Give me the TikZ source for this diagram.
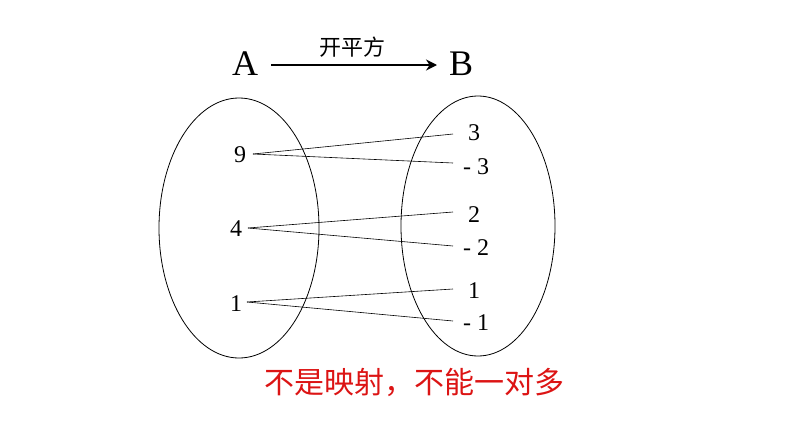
\documentclass[tikz,border=0pt]{standalone}
\usepackage{fontspec}
\setmainfont{Liberation Serif}
\newfontfamily\cjk{Noto Sans CJK SC}
\usetikzlibrary{arrows.meta}
\begin{document}
\begin{tikzpicture}[x=1pt,y=-1pt,
  num/.style={inner sep=0pt,font=\fontsize{24}{24}\selectfont},
  big/.style={inner sep=0pt,font=\fontsize{36}{36}\selectfont},
  ln/.style={draw,line width=0.6pt}]
\useasboundingbox (0,0) rectangle (794,447);
\draw[line width=0.8pt] (239,228) ellipse [x radius=80, y radius=130];
\draw[line width=0.8pt] (478,226) ellipse [x radius=77, y radius=130];
\node[big] (A) at (245,64) {A};
\node[big] (B) at (461,64) {B};
\coordinate (s) at (271,65);
\coordinate (e) at (437,65);
\draw[line width=1.8pt,-{Stealth[length=11pt,width=11pt]}] (s) -- (e);
\node[inner sep=0pt,font=\cjk\fontsize{22}{22}\selectfont] (f) at (352,47) {开平方};
\node[num] (n9) at (240,155) {9};
\node[num] (n4) at (236,229) {4};
\node[num] (n1) at (236,304) {1};
\node[num] (r3) at (474,133) {3};
\node[num] (m3) at (476,167) {- 3};
\node[num] (r2) at (474,215) {2};
\node[num] (m2) at (476,248) {- 2};
\node[num] (r1) at (474,291) {1};
\node[num] (m1) at (476,323) {- 1};
\coordinate (a9) at (253,154); \coordinate (a4) at (248,228); \coordinate (a1) at (247,302);
\draw[ln] (a9) -- (453,134); \draw[ln] (a9) -- (453,163);
\draw[ln] (a4) -- (453,212); \draw[ln] (a4) -- (453,246);
\draw[ln] (a1) -- (453,289); \draw[ln] (a1) -- (453,321);
\node[inner sep=0pt,text={rgb,255:red,220;green,20;blue,20},font=\cjk\fontsize{30}{30}\selectfont] (t) at (414,382) {不是映射，不能一对多};
\end{tikzpicture}
\end{document}
